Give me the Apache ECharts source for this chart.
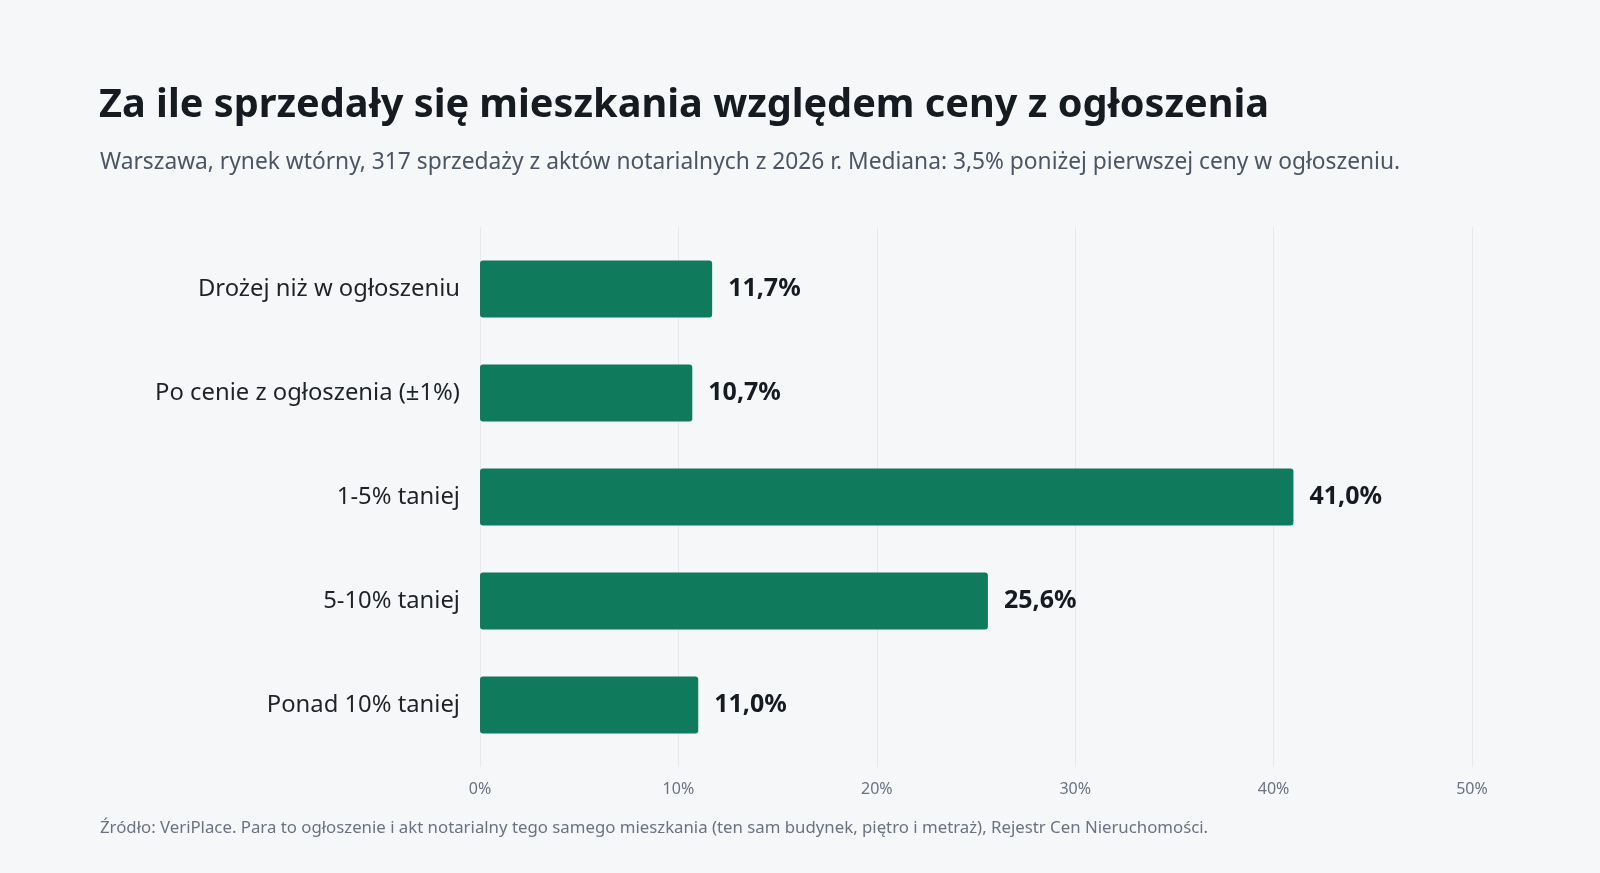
<!DOCTYPE html>
<html>
<head>
<meta charset="utf-8">
<script src="https://cdn.jsdelivr.net/npm/echarts@6/dist/echarts.min.js"></script>
<style>
  html, body { margin: 0; padding: 0; background: #f6f7f9; }
  #main { width: 1600px; height: 873px; }
</style>
</head>
<body>
<div id="main"></div>
<script>
// dane
var categories = ['Drożej niż w ogłoszeniu', 'Po cenie z ogłoszenia (±1%)', '1-5% taniej', '5-10% taniej', 'Ponad 10% taniej'];
var shares = [11.7, 10.7, 41.0, 25.6, 11.0];
var xTicks = [0, 10, 20, 30, 40, 50];

var font = '"Noto Sans", "Open Sans", sans-serif';
var myChart = echarts.init(document.getElementById('main'));

var option = {
  backgroundColor: '#f6f7f9',
  textStyle: { fontFamily: font },
  title: [{
    text: 'Za ile sprzedały się mieszkania względem ceny z ogłoszenia',
    left: 94, top: 81,
    textStyle: { fontFamily: font, fontSize: 39.7, fontWeight: 'bold', color: '#161b22' }
  }, {
    text: 'Warszawa, rynek wtórny, 317 sprzedaży z aktów notarialnych z 2026 r. Mediana: 3,5% poniżej pierwszej ceny w ogłoszeniu.',
    left: 95, top: 146,
    textStyle: { fontFamily: font, fontSize: 22.75, fontWeight: 'normal', color: '#4b5563' }
  }, {
    text: 'Źródło: VeriPlace. Para to ogłoszenie i akt notarialny tego samego mieszkania (ten sam budynek, piętro i metraż), Rejestr Cen Nieruchomości.',
    left: 95, top: 815,
    textStyle: { fontFamily: font, fontSize: 16.8, fontWeight: 'normal', color: '#6b7280' }
  }],
  grid: [
    // siatka z liniami pomocniczymi
    { left: 480, right: 128, top: 227, bottom: 106 },
    // słupki
    { left: 480, right: 128, top: 237, bottom: 116 }
  ],
  xAxis: [{
    gridIndex: 0, type: 'value', min: xTicks[0], max: xTicks[xTicks.length - 1], interval: 10,
    axisLine: { show: false }, axisTick: { show: false },
    splitLine: { lineStyle: { color: '#e6e8eb', width: 1 } },
    axisLabel: { color: '#6b7280', fontSize: 16, margin: 14, formatter: '{value}%' }
  }, {
    gridIndex: 1, type: 'value', min: xTicks[0], max: xTicks[xTicks.length - 1], interval: 10,
    show: false
  }],
  yAxis: [{
    gridIndex: 0, type: 'category', data: categories, inverse: true, show: false
  }, {
    gridIndex: 1, type: 'category', data: categories, inverse: true,
    axisLine: { show: false }, axisTick: { show: false },
    axisLabel: { color: '#1f2328', fontSize: 23.8, margin: 20, padding: [4, 0, 0, 0] }
  }],
  series: [{
    type: 'bar',
    xAxisIndex: 1, yAxisIndex: 1,
    data: shares,
    barWidth: 57,
    itemStyle: { color: '#0f7b5c', borderRadius: 3 },
    label: {
      show: true, position: 'right', distance: 16,
      color: '#161b22', fontSize: 25, fontWeight: 'bold',
      formatter: function(p) { return p.value.toFixed(1).replace('.', ',') + '%'; }
    }
  }]
};

myChart.setOption(option);
</script>
</body>
</html>
